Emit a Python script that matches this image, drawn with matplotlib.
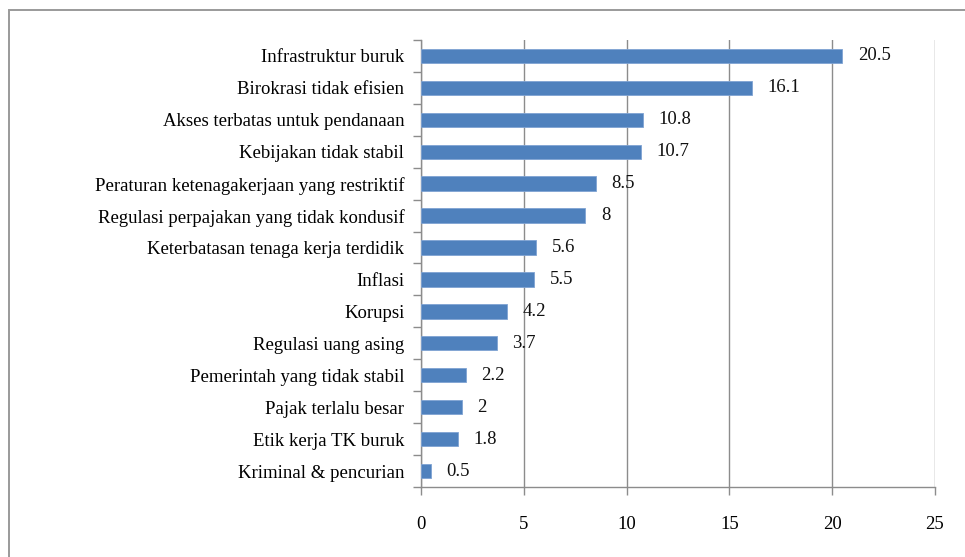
import numpy as np
from matplotlib import pyplot as plt
from matplotlib.patches import Rectangle

categories = [
    "Infrastruktur buruk",
    "Birokrasi tidak efisien",
    "Akses terbatas untuk pendanaan",
    "Kebijakan tidak stabil",
    "Peraturan ketenagakerjaan yang restriktif",
    "Regulasi perpajakan yang tidak kondusif",
    "Keterbatasan tenaga kerja terdidik",
    "Inflasi",
    "Korupsi",
    "Regulasi uang asing",
    "Pemerintah yang tidak stabil",
    "Pajak terlalu besar",
    "Etik kerja TK buruk",
    "Kriminal & pencurian",
]
values = [20.5, 16.1, 10.8, 10.7, 8.5, 8, 5.6, 5.5, 4.2, 3.7, 2.2, 2, 1.8, 0.5]
value_labels = ["20.5", "16.1", "10.8", "10.7", "8.5", "8", "5.6", "5.5",
                "4.2", "3.7", "2.2", "2", "1.8", "0.5"]
x_ticks = [0, 5, 10, 15, 20, 25]

plt.rcParams['font.family'] = ['Liberation Serif', 'DejaVu Serif']

fig = plt.figure(figsize=(9.65, 5.57), dpi=100)

# chart area frame, only its top and left edges fall inside the picture
frame = Rectangle((9 / 965, -0.1), 1.2, 1 - 10 / 557 + 0.1,
                  transform=fig.transFigure, facecolor="none",
                  edgecolor="#9a9a9a", linewidth=1.4, clip_on=False)
fig.patches.append(frame)

ax = fig.add_axes([0.4363, 0.1257, 0.5326, 0.8025])

grid_col = "#8c8c8c"
fs = 13.5
y = np.arange(len(categories))
ax.barh(y, values, height=0.45, color="#4f81bd", edgecolor="#7fa3d3",
        linewidth=0.6, zorder=3)

for yi, v, lab in zip(y, values, value_labels):
    ax.annotate(lab, (v, yi), xytext=(11, 0), textcoords="offset points",
                va="center", ha="left", fontsize=fs, color="#111111")

ax.set_xlim(0, 25)
ax.set_ylim(len(categories) - 0.5, -0.5)
ax.set_xticks(x_ticks)
ax.set_xticklabels([str(t) for t in x_ticks], fontsize=fs)
ax.set_yticks(y)
ax.set_yticklabels(categories, fontsize=fs)
ax.set_yticks(np.arange(-0.5, len(categories), 1), minor=True)

ax.tick_params(axis="y", which="major", length=0, pad=12)
ax.tick_params(axis="y", which="minor", length=6, color=grid_col, width=1)
ax.tick_params(axis="x", length=6, color=grid_col, width=1, pad=15)

ax.grid(True, axis="x", color=grid_col, linewidth=1, zorder=0)
ax.set_axisbelow(True)
for s in ["top", "right"]:
    ax.spines[s].set_visible(False)
for s in ["left", "bottom"]:
    ax.spines[s].set_color(grid_col)
    ax.spines[s].set_linewidth(1)

plt.savefig("out.png", dpi=100)
